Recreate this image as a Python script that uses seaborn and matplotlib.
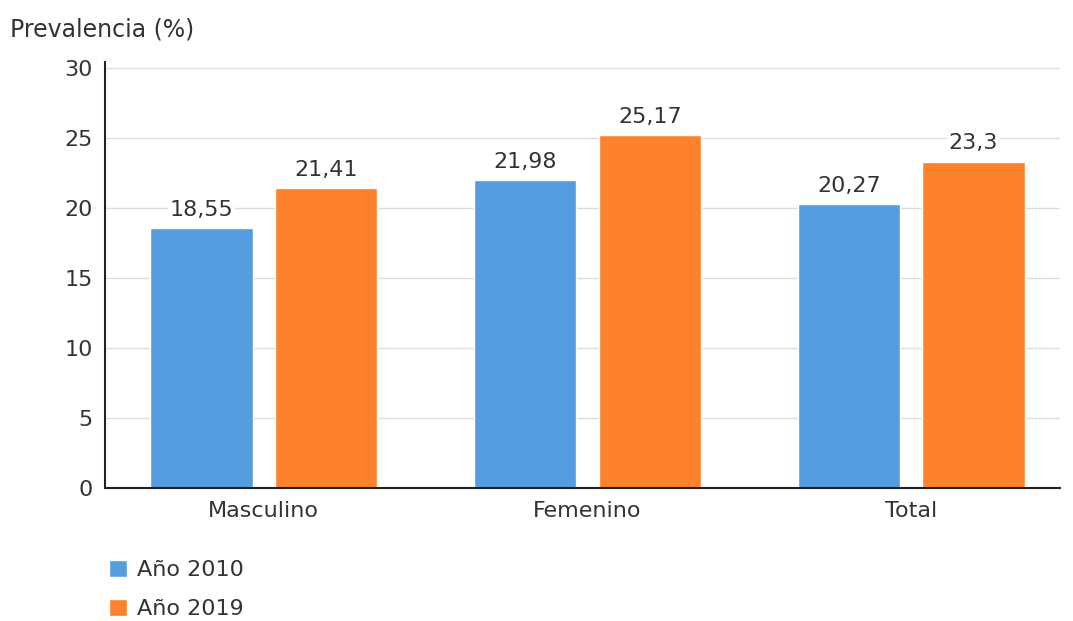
import pandas as pd
import matplotlib.pyplot as plt
import seaborn as sns

# datos del gráfico
categorias = ["Masculino", "Femenino", "Total"]
anios = ["Año 2010", "Año 2019"]
valores_2010 = [18.55, 21.98, 20.27]
valores_2019 = [21.41, 25.17, 23.3]
colores = ["#559ddf", "#fd822b"]

data = pd.DataFrame({
    "sexo": categorias * 2,
    "anio": [anios[0]] * 3 + [anios[1]] * 3,
    "prev": valores_2010 + valores_2019,
})

sns.set_theme(style="white")
plt.rcParams['font.family'] = ['DejaVu Sans']
fs = 16

fig = plt.figure(figsize=(10.73, 6.21), dpi=100)
ax = fig.add_axes([0.098, 0.214, 0.89, 0.686])

sns.barplot(data=data, x="sexo", y="prev", hue="anio", palette=colores,
            width=0.77, gap=0.18, saturation=1, ax=ax, zorder=2)

ax.set_ylim(0, 30.4)
ax.set_xlim(-0.49, 2.46)
ax.set_yticks([0, 5, 10, 15, 20, 25, 30])
ax.yaxis.grid(True, color="#dddddd", linewidth=1, zorder=0)
ax.set_axisbelow(True)
ax.set_xlabel("")
ax.set_ylabel("")
for s in ["top", "right"]:
    ax.spines[s].set_visible(False)
for s in ["left", "bottom"]:
    ax.spines[s].set_color("#222222")
    ax.spines[s].set_linewidth(1.5)
ax.tick_params(axis="both", length=0, labelsize=fs, labelcolor="#333333")
ax.tick_params(axis="y", pad=9)
ax.tick_params(axis="x", pad=9)

# etiquetas de los valores sobre las barras
for cont in ax.containers:
    etiquetas = [f"{v.get_height():g}".replace(".", ",") for v in cont]
    ax.bar_label(cont, labels=etiquetas, padding=6, fontsize=fs, color="#333333",
                 bbox=dict(facecolor="white", edgecolor="none", pad=1.5))

fig.text(0.009, 0.952, "Prevalencia (%)", fontsize=fs + 1, color="#333333",
         ha="left", va="center")

sns.move_legend(ax, loc="upper left", bbox_to_anchor=(0.102, 0.098),
                bbox_transform=fig.transFigure, frameon=False, title=None,
                fontsize=fs, handlelength=0.8, handleheight=0.8, labelspacing=0.85,
                handletextpad=0.45, borderaxespad=0, borderpad=0)
for t in ax.get_legend().get_texts():
    t.set_color("#333333")

plt.savefig("out.png", dpi=100)
